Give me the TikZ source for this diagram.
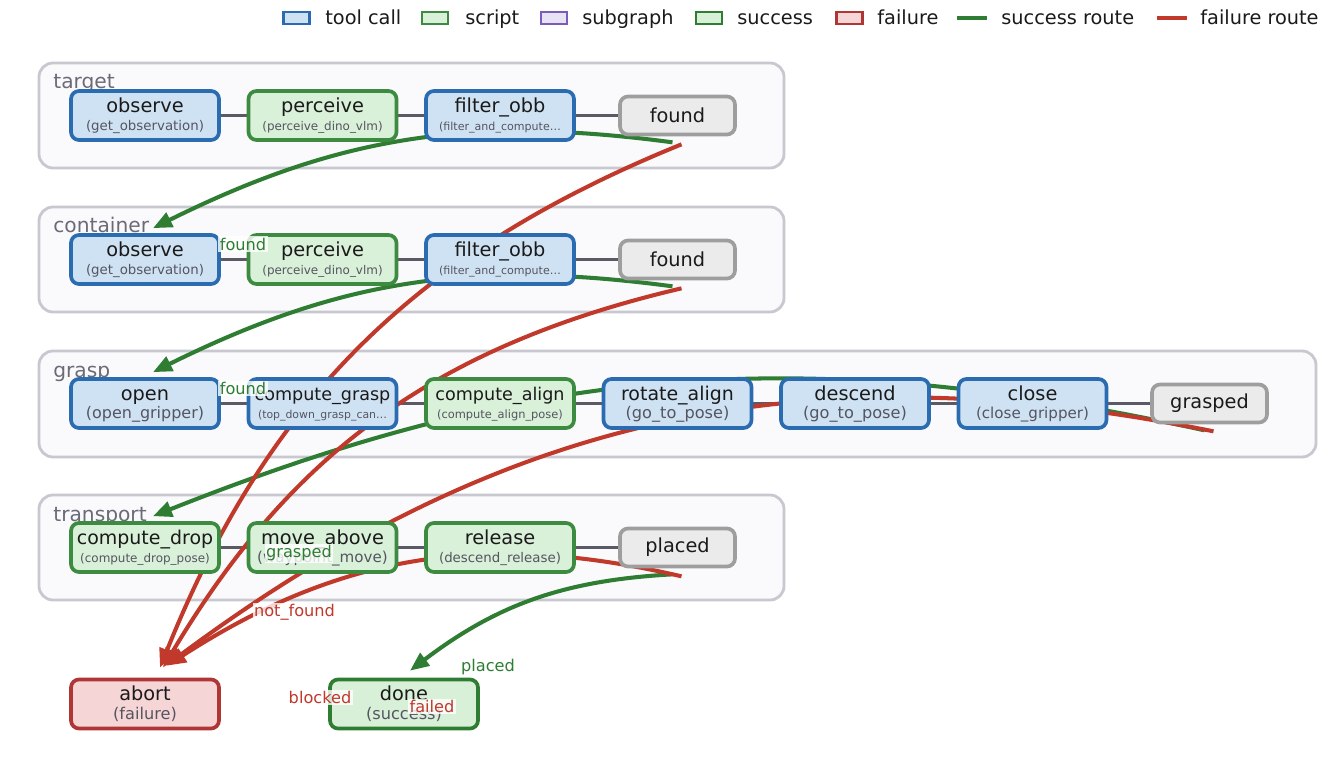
\documentclass[tikz,border=0pt]{standalone}
\usepackage{fontspec}
\setmainfont{DejaVu Sans}
\usetikzlibrary{arrows.meta,calc}

\definecolor{toolfill}{HTML}{CFE2F3}
\definecolor{toolline}{HTML}{2B6CB0}
\definecolor{scriptfill}{HTML}{D9F0D9}
\definecolor{scriptline}{HTML}{3D8B40}
\definecolor{subfill}{HTML}{E8E2F5}
\definecolor{subline}{HTML}{7B5CB8}
\definecolor{donefill}{HTML}{D8EFD8}
\definecolor{doneline}{HTML}{2E7D32}
\definecolor{abortfill}{HTML}{F5D5D5}
\definecolor{abortline}{HTML}{B03535}
\definecolor{termfill}{HTML}{EBEBEB}
\definecolor{termline}{HTML}{9E9E9E}
\definecolor{grpfill}{HTML}{FAFAFC}
\definecolor{grpline}{HTML}{C8C8D0}
\definecolor{chainc}{HTML}{5A5A66}
\definecolor{okc}{HTML}{2E7D32}
\definecolor{noc}{HTML}{C0392B}
\definecolor{maintx}{HTML}{1A1A1A}
\definecolor{subtx}{HTML}{555560}
\definecolor{titletx}{HTML}{6B6B78}

\pgfdeclarelayer{back}
\pgfdeclarelayer{wires}
\pgfsetlayers{back,wires,main}

% main label over a smaller call name
\newcommand\boxtext[4]{\begin{tabular}{@{}c@{}}\rule{0pt}{10pt}\fontsize{#1}{10.6}\selectfont #2\\\fontsize{#3}{10.6}\selectfont\color{subtx}#4\end{tabular}}

\begin{document}
\begin{tikzpicture}[x=0.02cm,y=0.02cm,
    tool/.style={draw=toolline,fill=toolfill,line width=2.1pt,rounded corners=0.16cm,
      minimum width=2.96cm,minimum height=0.98cm,inner sep=0pt,text=maintx,
      font=\fontsize{11}{10.6}\selectfont},
    script/.style={tool,draw=scriptline,fill=scriptfill},
    okend/.style={tool,draw=doneline,fill=donefill},
    noend/.style={tool,draw=abortline,fill=abortfill},
    term/.style={draw=termline,fill=termfill,line width=2.1pt,rounded corners=0.16cm,
      minimum width=2.3cm,minimum height=0.76cm,inner sep=0pt,text=maintx,
      font=\fontsize{11}{13}\selectfont},
    grp/.style={draw=grpline,fill=grpfill,line width=1.6pt,rounded corners=0.28cm},
    grptitle/.style={anchor=base west,inner sep=0pt,text=titletx,font=\fontsize{11.5}{13}\selectfont},
    chain/.style={draw=chainc,line width=2.2pt},
    okarc/.style={draw=okc,line width=2.3pt,-{Triangle[length=0.38cm,width=0.31cm]}},
    noarc/.style={draw=noc,line width=2.3pt,-{Triangle[length=0.38cm,width=0.31cm]}},
    oklbl/.style={fill=white,fill opacity=0.8,text opacity=1,inner sep=0.03cm,text=okc,
      font=\fontsize{9.2}{11}\selectfont},
    nolbl/.style={oklbl,text=noc},
    legbox/.style={line width=1.5pt,minimum width=0.52cm,minimum height=0.24cm,inner sep=0pt},
    legtx/.style={anchor=base west,inner sep=0pt,text=maintx,font=\fontsize{11}{13}\selectfont}]

\useasboundingbox (0,0) rectangle (1341,-773);

% groups
\begin{pgfonlayer}{back}
  \fill[white] (0,0) rectangle (1341,-773);
  \draw[grp] (39,-63) rectangle (784,-168);
  \draw[grp] (39,-207) rectangle (784,-312);
  \draw[grp] (39,-351) rectangle (1316,-457);
  \draw[grp] (39,-495) rectangle (784,-600);
\end{pgfonlayer}
\node[grptitle] (ttarget) at (53,-89) {target};
\node[grptitle] (tcontainer) at (53,-233) {container};
\node[grptitle] (tgrasp) at (53,-377) {grasp};
\node[grptitle] (ttransport) at (53,-521) {transport};

% legend
\node[legbox,draw=toolline,fill=toolfill] (ltoolbox) at (296.5,-18) {};
\node[legtx] (ltool) at (325,-24.5) {tool call};
\node[legbox,draw=scriptline,fill=scriptfill] (lscriptbox) at (435,-18) {};
\node[legtx] (lscript) at (465,-24.5) {script};
\node[legbox,draw=subline,fill=subfill] (lsubbox) at (554,-18) {};
\node[legtx] (lsub) at (582,-24.5) {subgraph};
\node[legbox,draw=doneline,fill=donefill] (lokbox) at (709,-18) {};
\node[legtx] (lok) at (737,-24.5) {success};
\node[legbox,draw=abortline,fill=abortfill] (lnobox) at (849.5,-18) {};
\node[legtx] (lno) at (877,-24.5) {failure};
\draw[okc,line width=2.8pt] (957,-18) -- (987,-18);
\node[legtx] (lokroute) at (1001,-24.5) {success route};
\draw[noc,line width=2.8pt] (1157,-18) -- (1187,-18);
\node[legtx] (lnoroute) at (1200,-24.5) {failure route};

% target
\node[tool] (tobs) at (145,-115.5) {\boxtext{11}{observe}{7.6}{(get\_observation)}};
\node[script] (tper) at (322.5,-115.5) {\boxtext{11}{perceive}{6.8}{(perceive\_dino\_vlm)}};
\node[tool] (tfil) at (500,-115.5) {\boxtext{11}{filter\_obb}{6.3}{(filter\_and\_compute…}};
\node[term] (tfound) at (677.5,-115.5) {found};

% container
\node[tool] (cobs) at (145,-259.5) {\boxtext{11}{observe}{7.6}{(get\_observation)}};
\node[script] (cper) at (322.5,-259.5) {\boxtext{11}{perceive}{6.8}{(perceive\_dino\_vlm)}};
\node[tool] (cfil) at (500,-259.5) {\boxtext{11}{filter\_obb}{6.3}{(filter\_and\_compute…}};
\node[term] (cfound) at (677.5,-259.5) {found};

% grasp
\node[tool] (gopen) at (145,-403.5) {\boxtext{11}{open}{9.1}{(open\_gripper)}};
\node[tool] (gcgr) at (322.5,-403.5) {\boxtext{10}{compute\_grasp}{6.2}{(top\_down\_grasp\_can…}};
\node[script] (gcal) at (500,-403.5) {\boxtext{10}{compute\_align}{6.5}{(compute\_align\_pose)}};
\node[tool] (grot) at (677.5,-403.5) {\boxtext{10.8}{rotate\_align}{9.2}{(go\_to\_pose)}};
\node[tool] (gdes) at (855,-403.5) {\boxtext{11}{descend}{9.2}{(go\_to\_pose)}};
\node[tool] (gclo) at (1032.5,-403.5) {\boxtext{11}{close}{8.6}{(close\_gripper)}};
\node[term] (ggrasped) at (1209.5,-403.5) {grasped};

% transport
\node[script] (pdrop) at (145,-547.5) {\boxtext{10.8}{compute\_drop}{6.8}{(compute\_drop\_pose)}};
\node[script] (pmove) at (322.5,-547.5) {\boxtext{11}{move\_above}{8.6}{(waypoint\_move)}};
\node[script] (prel) at (500,-547.5) {\boxtext{11}{release}{7.6}{(descend\_release)}};
\node[term] (pplaced) at (677.5,-547.5) {placed};

% ends
\node[noend] (abort) at (145,-704) {\boxtext{11}{abort}{9.2}{(failure)}};
\node[okend] (done) at (404,-704) {\boxtext{11}{done}{9.2}{(success)}};

% route ends
\coordinate (tok) at ($(tfound.south)+(-5,-6)$);
\coordinate (tno) at ($(tfound.south)+(4,-8)$);
\coordinate (cok) at ($(cfound.south)+(-5,-6)$);
\coordinate (cno) at ($(cfound.south)+(4,-8)$);
\coordinate (gok) at ($(ggrasped.south)+(-5,-6)$);
\coordinate (gno) at ($(ggrasped.south)+(4,-7)$);
\coordinate (pok) at ($(pplaced.south)+(-5,-6)$);
\coordinate (pno) at ($(pplaced.south)+(4,-8)$);
\coordinate (cin) at ($(cobs.north)+(8,5)$);
\coordinate (gin) at ($(gopen.north)+(8,5)$);
\coordinate (pin) at ($(pdrop.north)+(8,5)$);
\coordinate (din) at ($(done.north)+(6,7)$);
\coordinate (ab1) at ($(abort.north)+(15,10)$);
\coordinate (ab2) at ($(abort.north)+(18,10)$);
\coordinate (ab3) at ($(abort.north)+(21,12)$);
\coordinate (ab4) at ($(abort.north)+(22,12)$);

\begin{pgfonlayer}{wires}
  \draw[chain] (tobs) -- (tper) -- (tfil) -- (tfound);
  \draw[chain] (cobs) -- (cper) -- (cfil) -- (cfound);
  \draw[chain] (gopen) -- (gcgr) -- (gcal) -- (grot) -- (gdes) -- (gclo) -- (ggrasped);
  \draw[chain] (pdrop) -- (pmove) -- (prel) -- (pplaced);
  \draw[okarc] (tok) to[bend right=17] (cin);
  \draw[okarc] (cok) to[bend right=17] (gin);
  \draw[okarc] (gok) to[bend right=17] (pin);
  \draw[okarc] (pok) to[bend right=17] (din);
  \draw[noarc] (tno) to[bend right=23] (ab1);
  \draw[noarc] (cno) to[bend right=23] (ab2);
  \draw[noarc] (gno) to[bend right=24] (ab3);
  \draw[noarc] (pno) to[bend right=23] (ab4);
\end{pgfonlayer}

% route labels
\node[oklbl] (lfound1) at (243,-244) {found};
\node[oklbl] (lfound2) at (243,-388.5) {found};
\node[oklbl] (lgrasped) at (299,-553.5) {grasped};
\node[nolbl] (lnotfound) at (294.5,-612.5) {not\_found};
\node[nolbl] (lblocked) at (320,-697.5) {blocked};
\node[nolbl] (lfailed) at (432,-706.5) {failed};
\node[oklbl] (lplaced) at (488,-667.5) {placed};
\end{tikzpicture}
\end{document}
